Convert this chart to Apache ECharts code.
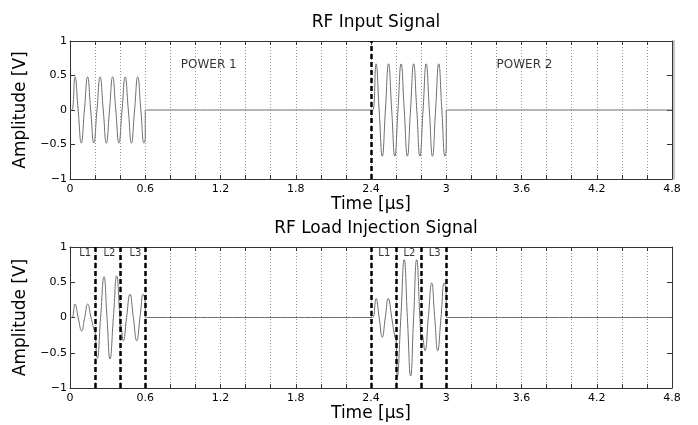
<!DOCTYPE html>
<html>
<head>
<meta charset="utf-8">
<script src="https://cdn.jsdelivr.net/npm/echarts@6/dist/echarts.min.js"></script>
<style>html,body{margin:0;padding:0;background:#fff}#c{width:698px;height:425px}</style>
</head>
<body>
<div id="c"></div>
<script>
// ---- data ----
const titles = ['RF Input Signal', 'RF Load Injection Signal'];
const xName = 'Time [µs]';
const yName = 'Amplitude [V]';
const xTickValues = [0, 0.6, 1.2, 1.8, 2.4, 3, 3.6, 4.2, 4.8];
const xTickLabels = ['0', '0.6', '1.2', '1.8', '2.4', '3', '3.6', '4.2', '4.8'];
const yTickValues = [-1, -0.5, 0, 0.5, 1];
const yTickLabels = ['\u22121', '\u22120.5', '0', '0.5', '1'];

const inputT = [0, 0.015, 0.04, 0.065, 0.09, 0.115, 0.14, 0.165, 0.19, 0.215, 0.24, 0.265, 0.29, 0.315,
  0.34, 0.365, 0.39, 0.415, 0.44, 0.465, 0.49, 0.515, 0.54, 0.565, 0.59, 0.6, 0.6, 0.62,
  2.4, 2.415, 2.44, 2.465, 2.49, 2.515, 2.54, 2.565, 2.59, 2.615, 2.64, 2.665, 2.69, 2.715,
  2.74, 2.765, 2.79, 2.815, 2.84, 2.865, 2.89, 2.915, 2.94, 2.965, 2.99, 3.0, 3.0, 3.02, 4.8];
const inputV = [0, 0, 0.48, 0, -0.48, 0, 0.48, 0, -0.48, 0, 0.48, 0, -0.48, 0,
  0.48, 0, -0.48, 0, 0.48, 0, -0.48, 0, 0.48, 0, -0.48, -0.39, 0, 0,
  0, 0, 0.67, 0, -0.67, 0, 0.67, 0, -0.67, 0, 0.67, 0, -0.67, 0,
  0.67, 0, -0.67, 0, 0.67, 0, -0.67, 0, 0.67, 0, -0.67, -0.55, 0, 0, 0];

const loadT = [0, 0.015, 0.04, 0.065, 0.093, 0.117, 0.141, 0.167, 0.194, 0.2,
  0.218, 0.244, 0.271, 0.295, 0.319, 0.346, 0.372, 0.397, 0.4, 0.403,
  0.425, 0.451, 0.478, 0.505, 0.532, 0.558, 0.584, 0.6, 0.6, 0.62,
  2.4, 2.415, 2.44, 2.465, 2.49, 2.514, 2.538, 2.565, 2.591, 2.6,
  2.61, 2.638, 2.665, 2.69, 2.716, 2.74, 2.764, 2.79, 2.8, 2.806,
  2.83, 2.857, 2.884, 2.908, 2.932, 2.958, 2.984, 3.0, 3.0, 3.02, 4.8];
const loadV = [0, 0, 0.19, 0, -0.19, 0, 0.19, 0, -0.19, -0.21,
  -0.58, 0, 0.58, 0, -0.59, 0, 0.59, 0, -0.15, -0.1,
  -0.33, 0, 0.33, 0, -0.33, 0, 0.33, 0.18, 0, 0,
  0, 0, 0.27, 0, -0.28, 0, 0.27, 0, -0.28, -0.3,
  -0.84, 0, 0.82, 0, -0.83, 0, 0.82, 0, -0.3, -0.24,
  -0.47, 0, 0.49, 0, -0.47, 0, 0.49, 0.3, 0, 0, 0];

const dashTop = [2.4];
const dashBottom = [0.2, 0.4, 0.6, 2.4, 2.6, 2.8, 3.0];

const powerNames = ['POWER 1', 'POWER 2'];
const powerT = [1.106, 3.624];
const powerV = [0.66, 0.66];
const loadNames = ['L1', 'L2', 'L3', 'L1', 'L2', 'L3'];
const loadNameT = [0.121, 0.315, 0.521, 2.506, 2.707, 2.908];
const loadNameV = [0.905, 0.905, 0.905, 0.905, 0.905, 0.905];

// ---- chart ----
const FONT = 'DejaVu Sans';
const W = 698, GL = 70, GR = 26;
const zip = (a, b) => a.map((v, i) => [v, b[i]]);
const xFmt = v => {
  const i = xTickValues.findIndex(t => Math.abs(t - v) < 1e-6);
  return i >= 0 ? xTickLabels[i] : '';
};
const yFmt = v => {
  const i = yTickValues.findIndex(t => Math.abs(t - v) < 1e-6);
  return i >= 0 ? yTickLabels[i] : '';
};
const axisColor = '#333';

function xAxes(g) {
  return [{
    type: 'value', gridIndex: g, min: 0, max: 4.8, interval: 0.2, position: 'bottom',
    axisLine: { show: true, onZero: false, lineStyle: { color: axisColor, width: 1 } },
    axisTick: { show: true, inside: true, length: 4, lineStyle: { color: axisColor } },
    axisLabel: { formatter: xFmt, color: '#000', fontSize: 11, fontFamily: FONT, margin: 5, showMinLabel: true, showMaxLabel: true },
    splitLine: { show: true, lineStyle: { color: '#9a9a9a', type: [1, 2], width: 1 } },
    name: xName, nameLocation: 'middle', nameGap: 17,
    nameTextStyle: { color: '#000', fontSize: 17, fontFamily: FONT }
  }, {
    type: 'value', gridIndex: g, min: 0, max: 4.8, interval: 0.2, position: 'top',
    axisLine: { show: true, onZero: false, lineStyle: { color: axisColor, width: 1 } },
    axisTick: { show: true, inside: true, length: 4, lineStyle: { color: axisColor } },
    axisLabel: { show: false }, splitLine: { show: false }
  }];
}
function yAxes(g) {
  const arr = [{
    type: 'value', gridIndex: g, min: -1, max: 1, interval: 0.5, position: 'left',
    axisLine: { show: true, onZero: false, lineStyle: { color: axisColor, width: 1 } },
    axisTick: { show: true, inside: true, length: 5, lineStyle: { color: axisColor } },
    axisLabel: { formatter: yFmt, color: '#000', fontSize: 11, fontFamily: FONT, margin: 3 },
    splitLine: { show: false },
    name: yName, nameLocation: 'middle', nameGap: 32, nameRotate: 90,
    nameTextStyle: { color: '#000', fontSize: 17, fontFamily: FONT }
  }, {
    type: 'value', gridIndex: g, min: -1, max: 1, interval: 0.5, position: 'right',
    axisLine: { show: true, onZero: false, lineStyle: { color: axisColor, width: 1 } },
    axisTick: { show: true, inside: true, length: 5, lineStyle: { color: axisColor } },
    axisLabel: { show: false }, splitLine: { show: false }
  }];
  if (g === 0) {
    arr.push({
      type: 'value', gridIndex: g, min: -1, max: 1, position: 'right', offset: 2,
      axisLine: { show: true, onZero: false, lineStyle: { color: '#c4c4c4', width: 2 } },
      axisTick: { show: false }, axisLabel: { show: false }, splitLine: { show: false }
    });
  }
  return arr;
}
function signal(g, yIdx, data, dashes) {
  return {
    type: 'line', xAxisIndex: g * 2, yAxisIndex: yIdx, data: data,
    showSymbol: false, symbol: 'none', smooth: 0.5,
    lineStyle: { color: '#6e6e6e', width: 1 }, silent: true, animation: false,
    markLine: {
      silent: true, symbol: ['none', 'none'], label: { show: false }, animation: false,
      lineStyle: { color: '#000', type: [5, 3], width: 2.5 },
      data: dashes.map(x => ({ xAxis: x }))
    }
  };
}
function labels(g, yIdx, names, ts, vs, size) {
  return {
    type: 'scatter', xAxisIndex: g * 2, yAxisIndex: yIdx, symbolSize: 0, silent: true, animation: false,
    data: names.map((n, i) => ({ name: n, value: [ts[i], vs[i]] })),
    label: { show: true, position: 'inside', formatter: p => p.name, color: '#000', fontSize: size, fontFamily: FONT }
  };
}

const chart = echarts.init(document.getElementById('c'), null, { renderer: 'canvas' });
const yA = yAxes(0).concat(yAxes(1));
const bottomY = yAxes(0).length; // index of first y axis of grid 1
chart.setOption({
  animation: false,
  textStyle: { fontFamily: FONT },
  title: [
    { text: titles[0], left: GL + (W - GL - GR) / 2, textAlign: 'center', top: 9,
      textStyle: { fontSize: 17, fontWeight: 'normal', color: '#000', fontFamily: FONT } },
    { text: titles[1], left: GL + (W - GL - GR) / 2, textAlign: 'center', top: 215,
      textStyle: { fontSize: 17, fontWeight: 'normal', color: '#000', fontFamily: FONT } }
  ],
  grid: [
    { left: GL, right: GR, top: 41, height: 138, outerBoundsMode: 'none' },
    { left: GL, right: GR, top: 247, height: 141, outerBoundsMode: 'none' }
  ],
  xAxis: xAxes(0).concat(xAxes(1)),
  yAxis: yA,
  series: [
    signal(0, 0, zip(inputT, inputV), dashTop),
    signal(1, bottomY, zip(loadT, loadV), dashBottom),
    labels(0, 0, powerNames, powerT, powerV, 12),
    labels(1, bottomY, loadNames, loadNameT, loadNameV, 10)
  ]
});
</script>
</body>
</html>
